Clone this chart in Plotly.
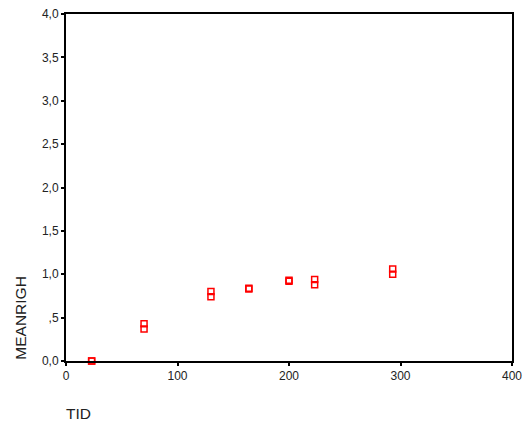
import plotly.graph_objects as go

tid = [23, 23, 70, 70, 130, 130, 164, 164, 200, 200, 223, 223, 293, 293]
meanrigh = [0.0, 0.0, 0.43, 0.37, 0.80, 0.74, 0.84, 0.83, 0.93, 0.92, 0.94, 0.88, 1.06, 1.00]

y_tickvals = [0, 0.5, 1.0, 1.5, 2.0, 2.5, 3.0, 3.5, 4.0]
y_ticktext = ["0,0", ",5", "1,0", "1,5", "2,0", "2,5", "3,0", "3,5", "4,0"]
x_tickvals = [0, 100, 200, 300, 400]
x_ticktext = ["0", "100", "200", "300", "400"]

fig = go.Figure()
fig.add_trace(go.Scatter(
    x=tid, y=meanrigh, mode="markers",
    marker=dict(symbol="square-open", size=6, color="#ff0000", line=dict(width=1.5, color="#ff0000")),
    cliponaxis=False, showlegend=False,
))

font = dict(family="Liberation Sans, Arial, sans-serif", size=12, color="#222")
title_font = dict(family="Liberation Sans, Arial, sans-serif", size=15.5, color="#222")
fig.update_layout(
    width=525, height=426,
    margin=dict(l=66, r=13, t=14, b=65, autoexpand=False),
    paper_bgcolor="white", plot_bgcolor="white",
    font=font,
    xaxis=dict(range=[0, 400], tickvals=x_tickvals, ticktext=x_ticktext, automargin=False,
               showgrid=False, zeroline=False, showline=True, linecolor="black",
               linewidth=2, mirror=True, ticks="outside", ticklen=3, tickwidth=2,
               tickcolor="black", tickfont=font),
    yaxis=dict(range=[0, 4], tickvals=y_tickvals, ticktext=y_ticktext, automargin=False,
               showgrid=False, zeroline=False, showline=True, linecolor="black",
               linewidth=2, mirror=True, ticks="outside", ticklen=3, tickwidth=2,
               tickcolor="black", tickfont=font),
    annotations=[
        dict(text="MEANRIGH", xref="paper", yref="paper", x=-0.104, y=-0.003,
             xanchor="center", yanchor="bottom", textangle=-90, showarrow=False,
             font=title_font),
        dict(text="TID", xref="paper", yref="paper", x=-0.005, y=-0.15,
             xanchor="left", yanchor="middle", showarrow=False,
             font=title_font),
    ],
)

fig.write_html("out.html")
